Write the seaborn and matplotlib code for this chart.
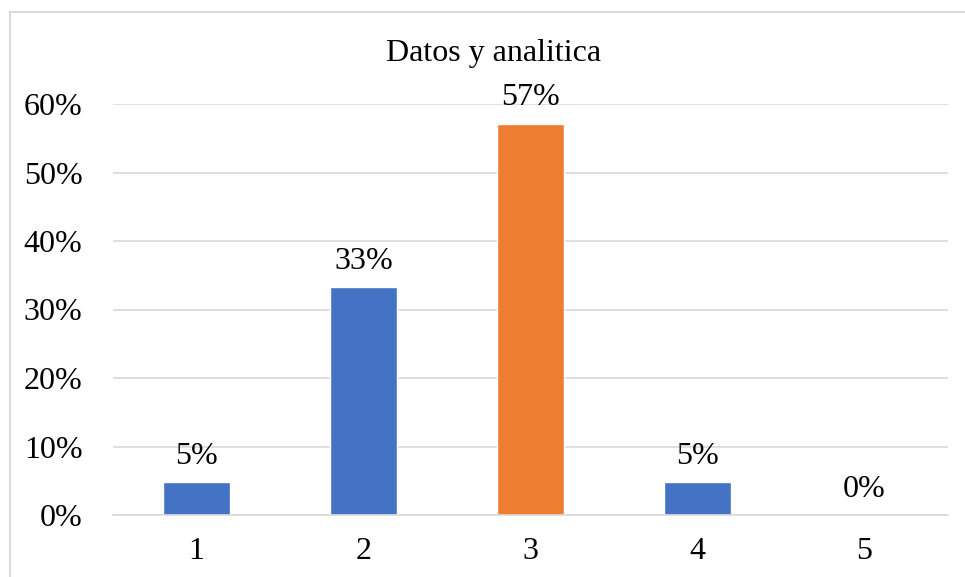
import matplotlib
matplotlib.use("Agg")
import matplotlib.pyplot as plt
import seaborn as sns
import pandas as pd
from matplotlib.patches import Rectangle
from matplotlib.ticker import FuncFormatter

categories = ["1", "2", "3", "4", "5"]
shares = [100 / 21, 700 / 21, 1200 / 21, 100 / 21, 0.0]
labels = ["5%", "33%", "57%", "5%", "0%"]
title = "Datos y analitica"
yticks = [0, 10, 20, 30, 40, 50, 60]

blue = "#4472C4"
orange = "#ED7D31"
palette = [orange if c == "3" else blue for c in categories]

df = pd.DataFrame({"cat": categories, "share": shares})

sns.set_theme(style="white")
plt.rcParams["font.family"] = ["Liberation Serif", "DejaVu Serif"]

fig = plt.figure(figsize=(9.65, 5.77), dpi=100)
ax = fig.add_axes([113 / 965, 1 - 515 / 577, 835 / 965, 411 / 577])

sns.barplot(data=df, x="cat", y="share", hue="cat", palette=palette,
            width=0.4, legend=False, ax=ax, saturation=1)

ax.set_ylim(0, 60)
ax.set_xlim(-0.5, 4.5)
ax.set_yticks(yticks)
ax.yaxis.set_major_formatter(FuncFormatter(lambda v, _: f"{v:.0f}%"))
ax.grid(axis="y", color="#d9d9d9", linewidth=1.2)
ax.set_axisbelow(True)
for s in ["top", "right", "left"]:
    ax.spines[s].set_visible(False)
ax.spines["bottom"].set_color("#d9d9d9")
ax.spines["bottom"].set_linewidth(1.2)
ax.tick_params(axis="both", length=0, labelsize=23, colors="black")
ax.tick_params(axis="x", pad=16)
ax.tick_params(axis="y", pad=22)
ax.set_xlabel("")
ax.set_ylabel("")

for i, (v, lab) in enumerate(zip(shares, labels)):
    ax.annotate(lab, (i, v), xytext=(0, 8), textcoords="offset points",
                ha="center", va="bottom", fontsize=23, color="black")

fig.text(494 / 965, 1 - 53 / 577, title, ha="center", va="center",
         fontsize=23, color="black")

fig.patches.append(Rectangle((10 / 965, -0.1), 1.2, 1 - 12 / 577 + 0.1,
                             transform=fig.transFigure, fill=False,
                             edgecolor="#d9d9d9", linewidth=1.5))

fig.savefig("out.png", dpi=100, facecolor="white")
